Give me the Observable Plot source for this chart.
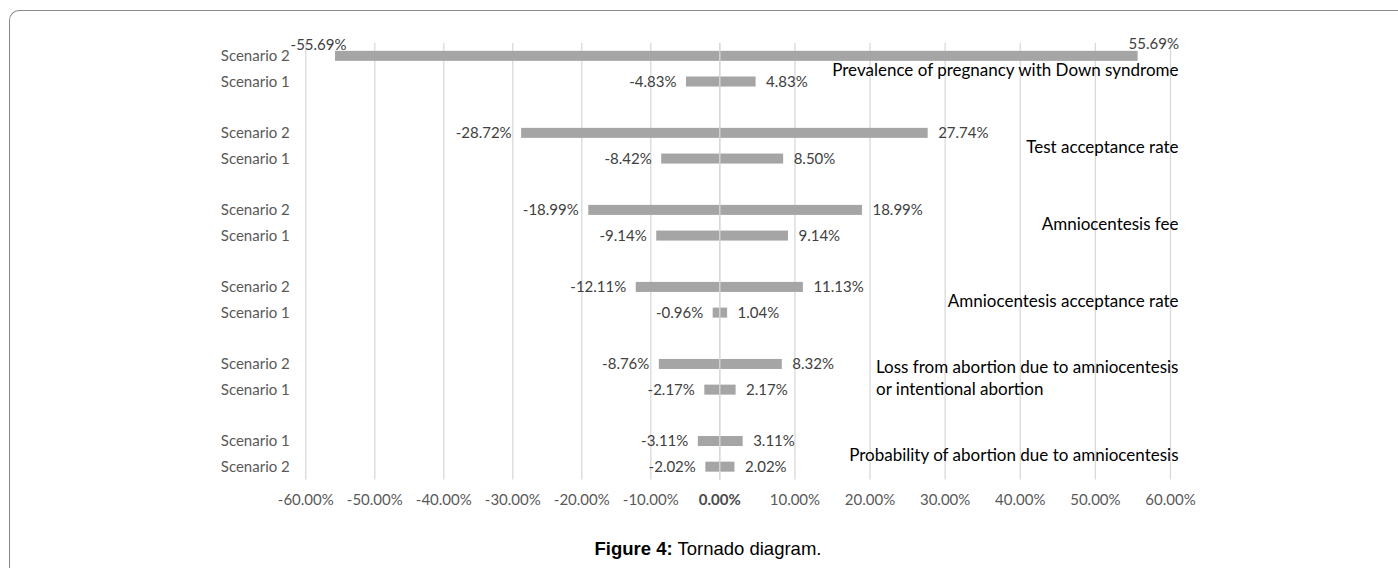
<!DOCTYPE html>
<html><head><meta charset="utf-8">
<script src="https://cdn.jsdelivr.net/npm/d3@7"></script>
<script src="https://cdn.jsdelivr.net/npm/@observablehq/plot@0.6"></script>
<style>
html,body{margin:0;padding:0;background:#fff;}
body{width:1398px;height:568px;overflow:hidden;position:relative;}
#frame{position:absolute;left:9px;top:10px;width:1500px;height:700px;border-top:1.5px solid #8a8a8a;border-left:1.5px solid #8a8a8a;border-top-left-radius:10px;}
#chart{position:absolute;left:0;top:0;}
#caption{position:absolute;left:18px;right:0;top:538px;text-align:center;font:18.5px "Liberation Sans",Arial,sans-serif;line-height:22px;color:#000;}
</style></head><body>
<div id="frame"></div>
<div id="chart"></div>
<div id="caption"><b>Figure 4:</b> Tornado diagram.</div>
<script>
// ---- data ----
const factors = [
  "Prevalence of pregnancy with Down syndrome",
  "Test acceptance rate",
  "Amniocentesis fee",
  "Amniocentesis acceptance rate",
  "Loss from abortion due to amniocentesis\nor intentional abortion",
  "Probability of abortion due to amniocentesis"
];
const rowFactor   = [0, 0, 1, 1, 2, 2, 3, 3, 4, 4, 5, 5];
const rowScenario = ["Scenario 2","Scenario 1","Scenario 2","Scenario 1","Scenario 2","Scenario 1",
                     "Scenario 2","Scenario 1","Scenario 2","Scenario 1","Scenario 1","Scenario 2"];
const lowValues   = [-55.69, -4.83, -28.72, -8.42, -18.99, -9.14, -12.11, -0.96, -8.76, -2.17, -3.11, -2.02];
const highValues  = [ 55.69,  4.83,  27.74,  8.50,  18.99,  9.14,  11.13,  1.04,  8.32,  2.17,  3.11,  2.02];
const xTicks = [-60, -50, -40, -30, -20, -10, 0, 10, 20, 30, 40, 50, 60];

// ---- derived tables ----
const fmt = v => v.toFixed(2) + "%";
const rows = lowValues.map((lo, i) => ({
  key: rowFactor[i] + "-" + rowScenario[i],
  factor: rowFactor[i], scenario: rowScenario[i], low: lo, high: highValues[i]
}));
const yDomain = [];
factors.forEach((f, fi) => {
  rows.filter(r => r.factor === fi).forEach(r => yDomain.push(r.key));
  if (fi < factors.length - 1) yDomain.push("gap" + fi);
});
const labelOf = new Map(rows.map(r => [r.key, r.scenario]));
const values = rows.flatMap(r => [{key: r.key, v: r.low}, {key: r.key, v: r.high}]);
const isBig = d => Math.abs(d.v) > 50;
const factorLabels = factors.map((name, fi) => ({name, key: yDomain.find(k => k.startsWith(fi + "-"))}));

const W = 1398, H = 520, mTop = 43, mBottom = 40.5, mLeft = 305.3, mRight = 220;
const step = (H - mTop - mBottom) / yDomain.length;
const font = "Lato, 'Open Sans', sans-serif";

const chart = Plot.plot({
  width: W, height: H,
  marginTop: mTop, marginBottom: mBottom, marginLeft: mLeft, marginRight: mRight,
  style: {fontFamily: font, fontSize: "15px", background: "transparent", overflow: "visible"},
  x: {type: "linear", domain: [-60, 0, 60], range: [305.3, 719.3, 1170], axis: null},
  y: {type: "band", domain: yDomain, paddingInner: 0.61, paddingOuter: 0.305, round: false, axis: null},
  marks: [
    Plot.gridX({ticks: xTicks, stroke: "#d9d9d9", strokeOpacity: 1, strokeWidth: 1.3}),
    Plot.barX(rows, {y: "key", x1: "low", x2: "high", fill: "#a5a5a5"}),
    Plot.ruleX([0], {stroke: "#d9d9d9", strokeWidth: 1.3}),
    Plot.axisY({tickSize: 0, tickPadding: 16, tickFormat: k => labelOf.get(k) || "", fontSize: 15, color: "#595959", label: null}),
    Plot.axisX({ticks: xTicks.filter(t => t !== 0), tickSize: 0, tickPadding: 14, tickFormat: fmt, fontSize: 15, color: "#595959", label: null}),
    Plot.axisX({ticks: [0], tickSize: 0, tickPadding: 14, tickFormat: fmt, fontSize: 15, fontWeight: "bold", color: "#4a4a4a", label: null}),
    // value labels
    Plot.text(values.filter(d => !isBig(d) && d.v < 0), {x: "v", y: "key", text: d => fmt(d.v), textAnchor: "end", dx: -10, fontSize: 15, fill: "#404040"}),
    Plot.text(values.filter(d => !isBig(d) && d.v > 0), {x: "v", y: "key", text: d => fmt(d.v), textAnchor: "start", dx: 10, fontSize: 15, fill: "#404040"}),
    Plot.text(values.filter(d => isBig(d) && d.v < 0), {x: "v", y: "key", text: d => fmt(d.v), textAnchor: "end", dx: 11, dy: -11, fontSize: 15, fill: "#404040"}),
    Plot.text(values.filter(d => isBig(d) && d.v > 0), {x: "v", y: "key", text: d => fmt(d.v), textAnchor: "start", dx: -9.5, dy: -12, fontSize: 15, fill: "#404040"}),
    // factor labels
    Plot.text(factorLabels, {y: "key", text: "name", frameAnchor: "right", textAnchor: "end", dy: step / 2,
      lineAnchor: "middle", lineHeight: 1.3, fontSize: 17, fill: "#000"})
  ]
});
document.getElementById("chart").appendChild(chart);

// left-align the lines of the multi-line factor label (keep the block's right edge)
chart.querySelectorAll("text").forEach(t => {
  const spans = t.querySelectorAll("tspan");
  if (spans.length > 1) {
    const bb = t.getBBox();
    t.setAttribute("text-anchor", "start");
    spans.forEach(s => s.setAttribute("x", bb.x));
  }
});
</script>
</body></html>
